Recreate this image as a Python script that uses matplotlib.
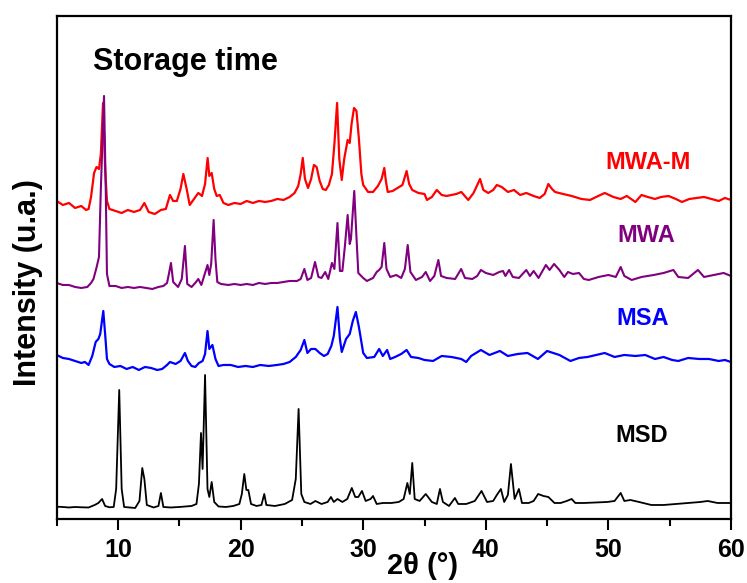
import matplotlib
matplotlib.use("Agg")
import matplotlib.pyplot as plt
from matplotlib.ticker import MultipleLocator

plt.rcParams['font.family'] = ['Liberation Sans', 'DejaVu Sans']
plt.rcParams['font.weight'] = 'bold'

# ---- data (2theta in degrees, intensity in arbitrary units incl. stacking offset) ----
mwam_x = [5.0, 5.5, 6.0, 6.5, 7.0, 7.4, 7.6, 7.8, 8.05, 8.25, 8.45, 8.6, 8.78, 8.95, 9.1, 9.3, 9.8, 10.3,
          10.8, 11.3, 11.8, 12.15, 12.5, 13.0, 13.5, 13.9, 14.24, 14.5, 14.8, 15.1, 15.33, 15.6, 15.85,
          16.2, 16.55, 16.85, 17.1, 17.31, 17.45, 17.64, 17.85, 18.05, 18.3, 18.6, 19.0, 19.5, 20.0,
          20.5, 21.0, 21.5, 22.0, 22.5, 23.0, 23.5, 24.0, 24.4, 24.7, 24.9, 25.07, 25.25, 25.5, 25.75,
          25.98, 26.2, 26.45, 26.7, 26.95, 27.2, 27.45, 27.65, 27.87, 28.05, 28.25, 28.45, 28.73, 28.9,
          29.05, 29.25, 29.45, 29.65, 29.85, 30.0, 30.4, 30.8, 31.2, 31.5, 31.72, 31.85, 32.0, 32.4,
          32.8, 33.2, 33.54, 33.75, 34.0, 34.5, 35.0, 35.2, 35.6, 36.0, 36.4, 36.8, 37.2, 37.6, 38.0,
          38.57, 39.0, 39.53, 39.8, 40.2, 40.6, 40.9, 41.3, 41.8, 42.3, 42.8, 43.3, 43.9, 44.4, 44.8,
          45.1, 45.4, 45.65, 46.3, 47.0, 47.8, 48.5, 49.0, 49.7, 50.4, 51.0, 51.5, 52.2, 52.7, 53.2,
          53.8, 54.3, 54.9, 55.5, 56.0, 56.6, 57.2, 57.8, 58.4, 59.0, 59.5, 60.0]
mwam_y = [318, 314, 316, 311, 313, 309, 310, 322, 346, 352, 350, 365, 416, 350, 318, 310, 308, 306,
          309, 307, 309, 316, 307, 305, 309, 310, 324, 318, 318, 330, 345, 330, 314,
          320, 326, 323, 335, 361, 343, 346, 330, 323, 324, 316, 314, 316, 315,
          318, 316, 318, 317, 318, 320, 319, 322, 326, 333, 345, 361, 340, 331, 340,
          354, 352, 338, 330, 329, 334, 345, 375, 416, 360, 339, 360, 379, 376,
          395, 411, 408, 380, 345, 334, 327, 327, 333, 340, 351, 338, 327, 328,
          331, 334, 348, 335, 329, 326, 325, 319, 322, 329, 324, 323, 324, 325, 327,
          319, 326, 340, 329, 326, 329, 334, 332, 327, 329, 324, 326, 323, 321, 325,
          335, 330, 327, 325, 323, 320, 319, 322, 326, 322, 320, 323, 317, 324, 322,
          320, 322, 323, 320, 317, 320, 321, 322, 320, 318, 321, 319]

mwa_x = [5.0, 5.5, 6.0, 6.5, 7.0, 7.5, 7.8, 8.0, 8.24, 8.45, 8.6, 8.86, 9.0, 9.1, 9.3, 9.8, 10.3, 10.8,
         11.3, 11.8, 12.3, 12.8, 13.3, 13.7, 14.0, 14.15, 14.32, 14.5, 14.9, 15.2, 15.46, 15.65, 16.0,
         16.3, 16.55, 16.8, 17.0, 17.3, 17.45, 17.6, 17.8, 17.95, 18.1, 18.4, 19.0, 19.5, 20.0, 20.5,
         21.0, 21.5, 22.0, 22.5, 23.0, 23.5, 24.0, 24.6, 24.9, 25.2, 25.45, 25.75, 26.07, 26.35, 26.6,
         26.9, 27.15, 27.45, 27.65, 27.9, 28.1, 28.3, 28.5, 28.73, 28.9, 29.0, 29.27, 29.45, 29.6, 30.0,
         30.3, 30.8, 31.1, 31.3, 31.5, 31.72, 31.9, 32.2, 32.7, 33.1, 33.4, 33.63, 33.85, 34.3, 34.8,
         35.1, 35.45, 35.8, 36.13, 36.35, 36.8, 37.5, 37.99, 38.3, 38.9, 39.3, 39.6, 40.0, 40.6, 41.1,
         41.4, 41.6, 41.9, 42.2, 42.7, 43.3, 43.6, 43.9, 44.3, 44.9, 45.2, 45.57, 46.0, 46.4, 46.7,
         47.1, 47.6, 48.0, 48.4, 49.2, 50.0, 50.6, 51.0, 51.3, 51.9, 52.7, 53.7, 54.5, 55.3, 55.7,
         56.5, 57.3, 57.8, 58.6, 59.4, 60.0]
mwa_y = [236, 234, 234, 232, 231, 232, 236, 240, 251, 262, 330, 423, 330, 245, 233, 233, 231, 232,
         231, 232, 231, 230, 232, 233, 236, 245, 256, 237, 232, 240, 273, 235, 232,
         236, 240, 234, 242, 254, 244, 255, 299, 260, 237, 235, 234, 235, 234, 235,
         234, 236, 235, 236, 236, 237, 238, 238, 240, 250, 239, 241, 257, 242, 241,
         247, 240, 256, 250, 296, 248, 248, 272, 304, 275, 280, 328, 282, 246, 241,
         238, 241, 247, 249, 252, 276, 250, 242, 244, 241, 250, 274, 247, 239, 242,
         247, 238, 243, 259, 243, 241, 240, 250, 241, 240, 243, 249, 246, 244, 247,
         248, 243, 249, 242, 241, 249, 243, 248, 241, 254, 249, 255, 249, 242, 247,
         245, 246, 240, 239, 242, 244, 242, 252, 243, 239, 242, 244, 246, 249, 242,
         241, 249, 242, 244, 246, 243]

msa_x = [5.0, 5.5, 6.0, 6.5, 7.0, 7.3, 7.6, 7.9, 8.18, 8.4, 8.55, 8.8, 8.95, 9.1, 9.3, 9.7, 10.2, 10.7,
         11.2, 11.7, 12.2, 12.7, 13.2, 13.6, 14.0, 14.24, 14.7, 15.1, 15.46, 15.7, 16.0, 16.3, 16.6,
         16.9, 17.1, 17.3, 17.45, 17.7, 17.95, 18.2, 18.6, 19.2, 19.8, 20.4, 21.0, 21.6, 22.3, 22.95,
         23.5, 24.0, 24.5, 24.9, 25.2, 25.45, 25.75, 26.1, 26.45, 26.8, 27.1, 27.4, 27.6, 27.9, 28.1,
         28.25, 28.6, 28.9, 29.15, 29.4, 29.65, 30.0, 30.3, 30.9, 31.3, 31.6, 31.95, 32.2, 32.6, 33.1,
         33.54, 33.9, 34.5, 35.0, 35.7, 36.4, 37.2, 38.0, 38.4, 38.8, 39.6, 40.3, 41.15, 41.8, 42.6,
         43.4, 44.25, 45.0, 45.5, 46.0, 46.9, 47.6, 48.3, 49.0, 49.7, 50.5, 51.3, 52.2, 53.0, 53.8,
         54.5, 55.2, 55.7, 56.5, 57.4, 58.2, 59.0, 59.5, 60.0]
msa_y = [164, 161, 160, 158, 156, 157, 154, 163, 177, 180, 185, 208, 185, 160, 155, 152, 153, 150,
         152, 149, 152, 151, 149, 150, 154, 157, 155, 158, 166, 158, 153, 152, 156,
         158, 165, 188, 170, 174, 160, 153, 154, 154, 152, 153, 152, 154, 153, 154,
         155, 157, 162, 169, 179, 166, 170, 170, 166, 163, 165, 173, 183, 212, 180,
         167, 180, 185, 198, 207, 192, 166, 161, 162, 170, 163, 169, 160, 162, 165,
         169, 162, 161, 159, 158, 163, 162, 160, 157, 163, 169, 164, 168, 163, 165,
         166, 160, 168, 166, 164, 158, 161, 162, 164, 166, 162, 164, 163, 164, 160,
         162, 159, 158, 161, 160, 160, 158, 159, 157]

msd_x = [5.0, 5.5, 6.0, 6.5, 7.0, 7.6, 8.1, 8.4, 8.7, 8.95, 9.3, 9.65, 9.85, 10.1, 10.3, 10.5, 11.0,
         11.4, 11.75, 11.98, 12.15, 12.35, 12.9, 13.3, 13.5, 13.7, 14.3, 15.0, 15.5, 16.0, 16.4, 16.6,
         16.77, 16.9, 17.1, 17.3, 17.45, 17.64, 17.85, 18.2, 18.8, 19.4, 19.9, 20.1, 20.3, 20.47,
         20.63, 20.85, 21.3, 21.7, 21.93, 22.1, 22.8, 23.6, 24.2, 24.5, 24.73, 24.95, 25.2, 25.7,
         26.1, 26.6, 27.1, 27.37, 27.6, 27.9, 28.3, 28.7, 29.07, 29.35, 29.6, 29.9, 30.2, 30.6, 30.8,
         31.1, 31.6, 32.3, 32.9, 33.3, 33.6, 33.8, 34.0, 34.2, 34.6, 35.1, 35.6, 36.0, 36.26, 36.5,
         37.0, 37.48, 37.75, 38.4, 39.1, 39.65, 40.1, 40.6, 40.9, 41.23, 41.5, 41.8, 42.05, 42.35,
         42.7, 42.95, 43.5, 43.9, 44.27, 44.7, 45.1, 45.6, 46.1, 46.6, 47.0, 47.3, 48.0, 49.0, 49.9,
         50.5, 51.0, 51.3, 51.8, 52.5, 53.5, 54.5, 55.5, 56.5, 57.5, 58.1, 58.9, 59.5, 60.0]
msd_y = [12.3, 12, 11.5, 12, 11.7, 11.5, 14, 16, 20, 13, 11.7, 12, 30, 129, 30, 12, 11.5,
         11, 18, 51, 40, 14, 11.5, 13, 26, 12, 11.5, 12, 12.5, 13, 15, 35,
         86, 50, 144, 30, 22, 37, 17, 12.5, 12, 13, 15, 25, 45, 29,
         29, 15, 13, 14, 25, 14, 13, 15, 19, 40, 110, 25, 17, 15,
         18, 15, 17, 22, 17, 20, 17, 20, 31, 22, 22, 28, 18, 20, 23,
         15, 16, 16, 17, 20, 36, 25, 56, 20, 18, 25, 17, 15, 30, 17,
         13, 21, 15, 15, 18, 28, 17, 18, 24, 30, 17, 24, 55, 20,
         30, 16, 16, 18, 25, 23, 22, 16, 16, 18, 20, 16, 16, 16.5, 17,
         18, 26, 18, 19, 17, 14, 14, 15, 16, 17, 18, 16, 16, 16]

labels = ['MWA-M', 'MWA', 'MSA', 'MSD']
colors = ['#ff0000', '#800080', '#0000ff', '#000000']
label_pos = [(53.2, 349.7), (53.1, 277.3), (52.8, 194.0), (52.7, 77.3)]
xticks_major = [10, 20, 30, 40, 50, 60]

fig = plt.figure(figsize=(7.47, 5.83), dpi=100)
ax = fig.add_axes([0.0759, 0.1098, 0.9027, 0.8628])

series = [(mwam_x, mwam_y), (mwa_x, mwa_y), (msa_x, msa_y), (msd_x, msd_y)]
lws = [1.6, 1.5, 1.6, 1.3]
for (xs, ys), c, lw in zip(series, colors, lws):
    ax.plot(xs, ys, color=c, lw=lw)

for lab, c, (lx, ly) in zip(labels, colors, label_pos):
    ax.text(lx, ly, lab, color=c, fontsize=17, fontweight='bold', ha='center', va='baseline')

ax.text(0.0538, 0.8926, 'Storage time', transform=ax.transAxes, fontsize=22,
        fontweight='bold', ha='left', va='baseline')

ax.set_xlim(5, 60)
ax.set_ylim(0, 503)
ax.set_xticks(xticks_major)
ax.xaxis.set_minor_locator(MultipleLocator(5))
ax.set_yticks([])
ax.tick_params(axis='x', which='major', direction='out', length=8, width=1.5,
               labelsize=18, pad=6, top=False)
ax.tick_params(axis='x', which='minor', direction='out', length=5, width=1.5, top=False)
for lbl in ax.get_xticklabels():
    lbl.set_fontweight('bold')
for s in ax.spines.values():
    s.set_linewidth(1.6)

ax.set_xlabel('2θ (°)', fontsize=21, fontweight='bold')
ax.xaxis.set_label_coords(0.5425, -0.066)
ax.set_ylabel('Intensity (u.a.)', fontsize=22, fontweight='bold')
ax.yaxis.set_label_coords(-0.02, 0.471)

fig.savefig('out.png', dpi=100)
